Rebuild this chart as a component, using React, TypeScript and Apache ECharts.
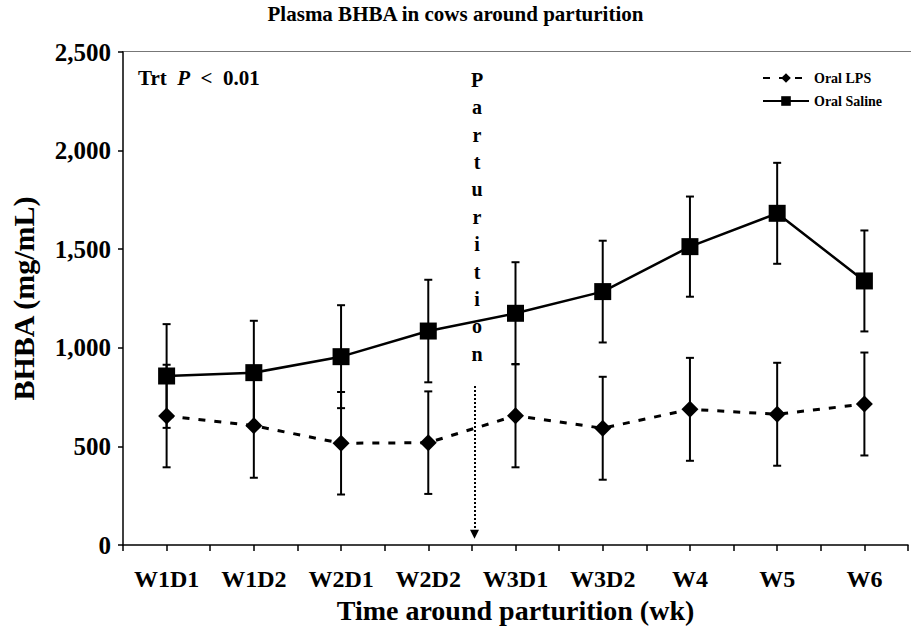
import React, { useEffect, useRef } from "react";
import * as echarts from "echarts";

const categories = ["W1D1", "W1D2", "W2D1", "W2D2", "W3D1", "W3D2", "W4", "W5", "W6"];
const salineMean = [857, 874, 955, 1085, 1175, 1285, 1513, 1682, 1339];
const salineSE = [263, 263, 261, 260, 259, 258, 254, 256, 256];
const lpsMean = [654, 605, 516, 519, 656, 592, 688, 663, 715];
const lpsSE = [260, 264, 260, 260, 262, 261, 261, 261, 261];
const yTicks = [0, 500, 1000, 1500, 2000, 2500];
const parturitionX = 4.03;
const parturitionArrow = [806, 55];

const FONT = "Liberation Serif";

export default function App() {
  const ref = useRef<HTMLDivElement>(null);
  useEffect(() => {
    if (!ref.current) return;
    const chart = echarts.init(ref.current, null, { renderer: "svg" });
    const xs = categories.map((_, i) => i + 0.5);
    const lpsPts = xs.map((x, i) => [x, lpsMean[i]]);
    const salPts = xs.map((x, i) => [x, salineMean[i]]);
    const lpsErr = xs.map((x, i) => [x, lpsMean[i] - lpsSE[i], lpsMean[i] + lpsSE[i]]);
    const salErr = xs.map((x, i) => [x, salineMean[i] - salineSE[i], salineMean[i] + salineSE[i]]);
    const errRender = (params: any, api: any) => {
      const x = api.value(0);
      const lo = api.coord([x, api.value(1)]);
      const hi = api.coord([x, api.value(2)]);
      const w = 4;
      const st = { stroke: "#000", lineWidth: 2 };
      return {
        type: "group",
        children: [
          { type: "line", shape: { x1: hi[0], y1: hi[1], x2: lo[0], y2: lo[1] }, style: st },
          { type: "line", shape: { x1: hi[0] - w, y1: hi[1], x2: hi[0] + w, y2: hi[1] }, style: st },
          { type: "line", shape: { x1: lo[0] - w, y1: lo[1], x2: lo[0] + w, y2: lo[1] }, style: st },
        ],
      };
    };
    chart.setOption({
      animation: false,
      backgroundColor: "#fff",
      textStyle: { fontFamily: FONT, color: "#000" },
      title: {
        text: "Plasma BHBA in cows around parturition",
        left: "center",
        top: -2,
        textStyle: { fontFamily: FONT, fontWeight: "bold", fontSize: 21, color: "#000" },
      },
      legend: {
        orient: "vertical",
        left: 757,
        top: 66,
        itemWidth: 46,
        itemHeight: 12,
        itemGap: 9,
        data: ["Oral LPS", "Oral Saline"],
        textStyle: { fontFamily: FONT, fontWeight: "bold", fontSize: 14, color: "#000" },
      },
      grid: { left: 122, top: 52, width: 797.4, height: 493 },
      xAxis: {
        type: "value",
        min: 0,
        max: 9,
        interval: 0.5,
        name: "Time around parturition (wk)",
        nameLocation: "middle",
        nameGap: 51,
        nameTextStyle: { fontFamily: FONT, fontWeight: "bold", fontSize: 28, color: "#000" },
        splitLine: { show: false },
        axisLine: { lineStyle: { color: "#000", width: 1.5 } },
        axisTick: { length: 6, lineStyle: { color: "#000", width: 1.5 } },
        axisLabel: {
          margin: 22,
          fontFamily: FONT,
          fontWeight: "bold",
          fontSize: 24,
          color: "#000",
          showMinLabel: true,
          showMaxLabel: true,
          formatter: (v: number) => {
            const f = v - Math.floor(v);
            if (Math.abs(f - 0.5) < 1e-6) {
              const idx = Math.floor(v);
              return categories[idx] ?? "";
            }
            return "";
          },
        },
      },
      yAxis: {
        type: "value",
        min: yTicks[0],
        max: yTicks[yTicks.length - 1],
        interval: 500,
        name: "BHBA (mg/mL)",
        nameLocation: "middle",
        nameGap: 85,
        nameTextStyle: { fontFamily: FONT, fontWeight: "bold", fontSize: 30, color: "#000" },
        splitLine: { show: false },
        axisLine: { show: true, lineStyle: { color: "#000", width: 1.5 } },
        axisTick: { show: true, length: 5, lineStyle: { color: "#000", width: 1.5 } },
        axisLabel: {
          margin: 12,
          fontFamily: FONT,
          fontWeight: "bold",
          fontSize: 25,
          color: "#000",
          formatter: (v: number) => v.toLocaleString("en-US"),
        },
      },
      graphic: [
        {
          type: "line",
          shape: { x1: 122, y1: 51.5, x2: 911, y2: 51.5 },
          style: { stroke: "#777", lineWidth: 1 },
          silent: true,
        },
        {
          type: "text",
          x: 138,
          y: 78,
          style: {
            text: "{a|Trt  }{b|P}{a|  <  0.01}",
            verticalAlign: "middle",
            rich: {
              a: { fontFamily: FONT, fontWeight: "bold", fontSize: 21, fill: "#000" },
              b: { fontFamily: FONT, fontWeight: "bold", fontStyle: "italic", fontSize: 21, fill: "#000" },
            },
          },
        },
        {
          type: "text",
          x: 477,
          y: 66,
          style: {
            text: "Parturition".split("").join("\n"),
            align: "center",
            verticalAlign: "top",
            lineHeight: 27.4,
            fontFamily: FONT,
            fontWeight: "bold",
            fontSize: 20,
            fill: "#000",
          },
        },
      ],
      series: [
        {
          type: "custom",
          name: "lpsErr",
          renderItem: errRender,
          data: lpsErr,
          z: 1,
          silent: true,
        },
        {
          type: "custom",
          name: "salErr",
          renderItem: errRender,
          data: salErr,
          z: 1,
          silent: true,
        },
        {
          type: "line",
          name: "Oral LPS",
          data: lpsPts,
          symbol: "diamond",
          symbolSize: 17,
          z: 3,
          itemStyle: { color: "#000" },
          lineStyle: { color: "#000", width: 3, type: [7, 9] },
          markLine: {
            silent: true,
            symbol: ["none", "triangle"],
            symbolSize: [9, 9],
            label: { show: false },
            lineStyle: { color: "#000", width: 2, type: [2, 2] },
            data: [[{ coord: [parturitionX, parturitionArrow[0]] }, { coord: [parturitionX, parturitionArrow[1]] }]],
          },
        },
        {
          type: "line",
          name: "Oral Saline",
          data: salPts,
          symbol: "rect",
          symbolSize: 17,
          z: 3,
          itemStyle: { color: "#000" },
          lineStyle: { color: "#000", width: 2.5 },
        },
      ],
    });
    return () => chart.dispose();
  }, []);
  return <div ref={ref} style={{ position: "fixed", left: 0, top: 0, width: 911, height: 630 }} />;
}
